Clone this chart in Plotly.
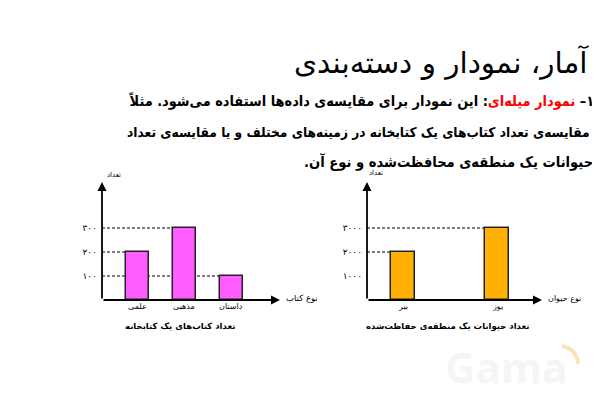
import plotly.graph_objects as go

# ---- data ----
book_categories = ["علمی", "مذهبی", "داستان"]
book_counts = [200, 300, 100]
book_ticks = [100, 200, 300]
book_ticktext = ["۱۰۰", "۲۰۰", "۳۰۰"]

animal_categories = ["ببر", "یوز"]
animal_counts = [2000, 3000]
animal_ticks = [1000, 2000, 3000]
animal_ticktext = ["۱۰۰۰", "۲۰۰۰", "۳۰۰۰"]

title_text = "آمار، نمودار و دسته‌بندی"
line1_a = "۱– "
line1_red = "نمودار میله‌ای"
line1_b = ": این نمودار برای مقایسه‌ی داده‌ها استفاده می‌شود. مثلاً"
line2 = "مقایسه‌ی تعداد کتاب‌های یک کتابخانه در زمینه‌های مختلف و یا مقایسه‌ی تعداد"
line3 = "حیوانات یک منطقه‌ی محافظت‌شده و نوع آن."

RLM = "\u200F"
W, H = 600, 400
OFF = 8  # page body margin in the browser
FONT = "DejaVu Sans"
PFONT = "DejaVu Sans Condensed, DejaVu Sans"

def px(x):
    return (x - OFF) / W

def py(y):
    return 1 - (y - OFF) / H

fig = go.Figure()

# watermark first so everything draws over it
fig.add_annotation(xref="paper", yref="paper", x=px(506), y=py(366), text="<b>Gama</b>",
                   showarrow=False, xanchor="center", yanchor="middle",
                   font=dict(size=42, color="#F5F5F5", family="Open Sans"))
fig.add_shape(type="path", xref="paper", yref="paper",
              path=f"M {px(562)},{py(346)} Q {px(577)},{py(349)} {px(578)},{py(364)}",
              line=dict(color="#FBE3B8", width=4), layer="below")

book_x = list(range(len(book_categories)))
animal_x = list(range(len(animal_categories)))

fig.add_trace(go.Bar(
    x=book_x, y=book_counts, width=0.49,
    marker=dict(color="#FF5CFF", line=dict(color="#222222", width=1.5)),
    xaxis="x", yaxis="y", hoverinfo="skip", showlegend=False))
fig.add_trace(go.Bar(
    x=animal_x, y=animal_counts, width=0.254,
    marker=dict(color="#FFB000", line=dict(color="#222222", width=1.5)),
    xaxis="x2", yaxis="y2", hoverinfo="skip", showlegend=False))

x1_range = [-0.755, 3.032]
x2_range = [-0.381, 1.471]
y1_range = [0, 491.7]
y2_range = [0, 4917]

axis_common = dict(showgrid=False, zeroline=False, showline=False, ticks="",
                   fixedrange=True)
fig.update_layout(
    width=W, height=H,
    margin=dict(l=0, r=0, t=0, b=0),
    paper_bgcolor="white", plot_bgcolor="white",
    font=dict(family=FONT, color="black"),
    bargap=0,
    xaxis=dict(domain=[px(102), px(280)], range=x1_range, anchor="y",
               showticklabels=False, **axis_common),
    yaxis=dict(domain=[py(300), py(182)], range=y1_range, anchor="x",
               tickvals=book_ticks, ticktext=book_ticktext,
               tickfont=dict(size=9, family=FONT, color="black"), ticklabelstandoff=4,
               **axis_common),
    xaxis2=dict(domain=[px(367), px(542)], range=x2_range, anchor="y2",
                showticklabels=False, **axis_common),
    yaxis2=dict(domain=[py(300), py(182)], range=y2_range, anchor="x2",
                tickvals=animal_ticks, ticktext=animal_ticktext,
                tickfont=dict(size=9, family=FONT, color="black"), ticklabelstandoff=4,
                **axis_common),
)

# category labels under bars
for xa, cats in [("x", book_categories), ("x2", animal_categories)]:
    for i, c in enumerate(cats):
        fig.add_annotation(xref=xa, yref="paper", x=i, y=py(306),
                           text=c, showarrow=False, yanchor="middle",
                           font=dict(size=8, family=FONT, color="black"))

# dashed guide lines from y-axis to bar tops
for i, v in enumerate(book_counts):
    fig.add_shape(type="line", xref="x", yref="y", x0=x1_range[0], x1=i - 0.245,
                  y0=v, y1=v, line=dict(color="black", width=1, dash="3px,2px"),
                  layer="below")
for i, v in enumerate(animal_counts):
    fig.add_shape(type="line", xref="x2", yref="y2", x0=x2_range[0], x1=i - 0.127,
                  y0=v, y1=v, line=dict(color="black", width=1, dash="3px,2px"),
                  layer="below")

# axes with arrows
for xr, yr in [("x domain", "y domain"), ("x2 domain", "y2 domain")]:
    fig.add_annotation(xref=xr, yref=yr, axref=xr, ayref=yr, x=1, y=0, ax=0, ay=0,
                       showarrow=True, arrowhead=2, arrowsize=1, arrowwidth=1.8,
                       arrowcolor="black", text="")
    fig.add_annotation(xref=xr, yref=yr, axref=xr, ayref=yr, x=0, y=1, ax=0, ay=0,
                       showarrow=True, arrowhead=2, arrowsize=1, arrowwidth=1.8,
                       arrowcolor="black", text="")

def note(x, y, text, size, xanchor="center", color="black", bold=False, family=FONT):
    t = RLM + text + RLM
    if bold:
        t = "<b>" + t + "</b>"
    fig.add_annotation(xref="paper", yref="paper", x=px(x), y=py(y), text=t,
                       showarrow=False, xanchor=xanchor, yanchor="middle",
                       font=dict(size=size, color=color, family=family))

# axis labels
note(114, 175, "تعداد", 7)
note(376, 173, "تعداد", 7)
note(284, 298, "نوع کتاب", 8.5, xanchor="left")
note(546, 298, "نوع حیوان", 8, xanchor="left")

# captions
note(180, 326, "تعداد کتاب‌های یک کتابخانه", 8.5, bold=True)
note(448, 326, "تعداد حیوانات یک منطقه‌ی حفاظت‌شده", 8.5, bold=True)

# title
note(591, 62, title_text, 29.5, xanchor="right")

# paragraph
fig.add_annotation(xref="paper", yref="paper", x=px(596), y=py(101),
                   text="<b>" + RLM + line1_a + "<span style='color:#FF0000'>" + line1_red
                   + "</span>" + line1_b + RLM + "</b>",
                   showarrow=False, xanchor="right", yanchor="middle",
                   font=dict(size=14.4, color="black", family=PFONT))
note(592, 132, line2, 13.6, xanchor="right", bold=True, family=PFONT)
note(595, 162, line3, 14.6, xanchor="right", bold=True, family=PFONT)

fig.write_html("out.html")
